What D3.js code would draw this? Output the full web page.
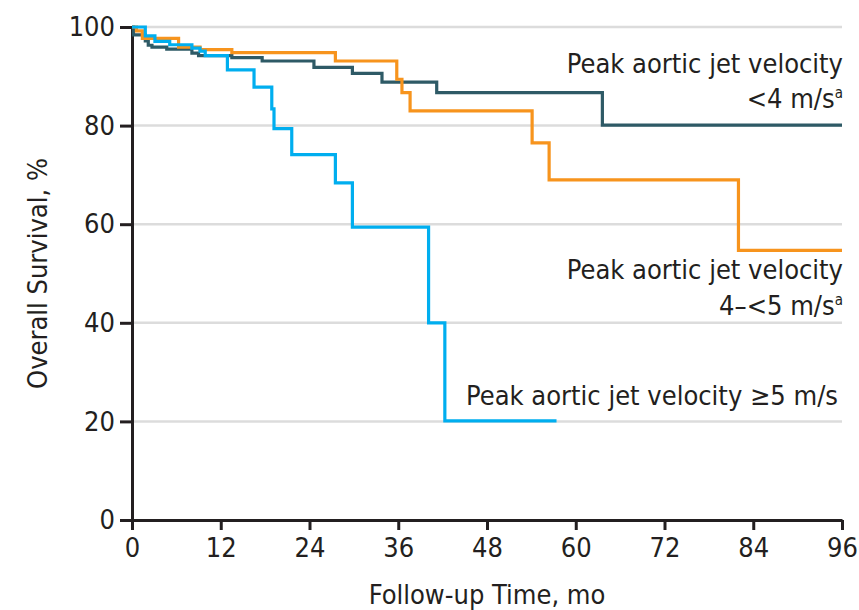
<!doctype html>
<html>
  <head>
    <script src="https://cdnjs.cloudflare.com/ajax/libs/d3/7.8.5/d3.min.js"></script>
  <style>
    body { margin: 0; background: #fff; }
    svg text {
      font-family: "DejaVu Sans Condensed", "DejaVu Sans", "Liberation Sans Narrow", sans-serif;
      font-stretch: condensed;
      fill: #231f20;
    }
  </style>
  </head>
  <body>
    <svg id="chart" width="859" height="610"></svg>
    <script>
      // months on follow-up, survival % after each step
      const lowTime  = [0, 0.2, 1.8, 2.2, 2.7, 4.7, 8.1, 9.0, 13.5, 17.6, 24.6, 29.8, 33.8, 41.2, 63.6, 96];
      const lowSurv  = [100, 98.4, 97.2, 96.3, 95.9, 95.5, 94.7, 94.2, 93.8, 93.1, 91.8, 90.6, 88.8, 86.7, 80.1, 80.1];

      const midTime  = [0, 0.6, 1.4, 6.3, 9.2, 13.5, 27.5, 35.8, 36.5, 37.6, 54.1, 56.4, 82.0, 96];
      const midSurv  = [100, 99.2, 97.7, 95.9, 95.4, 94.8, 93.1, 89.4, 86.7, 83.0, 76.5, 69.0, 54.7, 54.7];

      const highTime = [0, 1.8, 3.1, 5.1, 8.1, 9.2, 9.9, 12.9, 16.5, 18.9, 19.2, 21.6, 27.5, 29.8, 40.1, 42.3, 57.4];
      const highSurv = [100, 98.2, 97.1, 96.4, 95.7, 95.1, 94.2, 91.3, 87.8, 83.4, 79.4, 74.1, 68.4, 59.4, 40.0, 20.1, 20.1];

      const xTicks = [0, 12, 24, 36, 48, 60, 72, 84, 96];
      const yTicks = [0, 20, 40, 60, 80, 100];

      const xTitle = "Follow-up Time, mo";
      const yTitle = "Overall Survival, %";
      const lowLabel  = ["Peak aortic jet velocity", "<4 m/s", "a"];
      const midLabel  = ["Peak aortic jet velocity", "4–<5 m/s", "a"];
      const highLabel = "Peak aortic jet velocity ≥5 m/s";

      const svg = d3.select("#chart");
      const x = d3.scaleLinear().domain([0, 96]).range([132, 842]);
      const y = d3.scaleLinear().domain([0, 100]).range([520, 27]);

      // grid
      svg.append("g").selectAll("line")
        .data(yTicks.filter(d => d > 0))
        .enter().append("line")
          .attr("x1", x(0)).attr("x2", x(96))
          .attr("y1", d => y(d)).attr("y2", d => y(d))
          .style("stroke", "#dcdcdc")
          .style("stroke-width", 2.5);

      const xAxis = d3.axisBottom(x).tickValues(xTicks).tickSize(10).tickSizeOuter(0).tickPadding(8);
      const yAxis = d3.axisLeft(y).tickValues(yTicks).tickSize(12).tickSizeOuter(0).tickPadding(5);

      const xg = svg.append("g").attr("transform", "translate(0," + y(0) + ")").call(xAxis);
      const yg = svg.append("g").attr("transform", "translate(" + x(0) + ",0)").call(yAxis);
      [xg, yg].forEach(g => {
        g.select(".domain").style("stroke", "#231f20").style("stroke-width", 3);
        g.selectAll(".tick line").style("stroke", "#231f20").style("stroke-width", 3);
        g.selectAll(".tick text").style("font-size", "27px").style("fill", "#231f20");
      });
      xg.attr("font-family", null);
      yg.attr("font-family", null);

      const line = d3.line().curve(d3.curveStepAfter).x(d => x(d[0])).y(d => y(d[1]));
      const series = [
        { t: lowTime,  s: lowSurv,  c: "#2e5a66" },
        { t: midTime,  s: midSurv,  c: "#f7941d" },
        { t: highTime, s: highSurv, c: "#00aeef" }
      ];
      series.forEach(ser => {
        svg.append("path")
          .datum(ser.t.map((t, i) => [t, ser.s[i]]))
          .attr("d", line)
          .style("fill", "none")
          .style("stroke", ser.c)
          .style("stroke-width", 3.2);
      });

      // titles
      svg.append("text")
        .attr("x", (x(0) + x(96)) / 2).attr("y", 604)
        .attr("text-anchor", "middle")
        .style("font-size", "27px")
        .text(xTitle);
      svg.append("text")
        .attr("transform", "translate(47," + (y(0) + y(100)) / 2 + ") rotate(-90)")
        .attr("text-anchor", "middle")
        .style("font-size", "27px")
        .text(yTitle);

      // curve labels
      function twoLine(lbl, y1, y2) {
        svg.append("text").attr("x", 843).attr("y", y1)
          .attr("text-anchor", "end").style("font-size", "27px").text(lbl[0]);
        const t = svg.append("text").attr("x", 843).attr("y", y2)
          .attr("text-anchor", "end").style("font-size", "27px");
        t.append("tspan").text(lbl[1]);
        t.append("tspan").attr("dy", -10).style("font-size", "15px").text(lbl[2]);
      }
      twoLine(lowLabel, 73, 108);
      twoLine(midLabel, 279, 315);
      svg.append("text").attr("x", 838).attr("y", 405)
        .attr("text-anchor", "end").style("font-size", "27px").text(highLabel);
    </script>
  </body>
</html>
